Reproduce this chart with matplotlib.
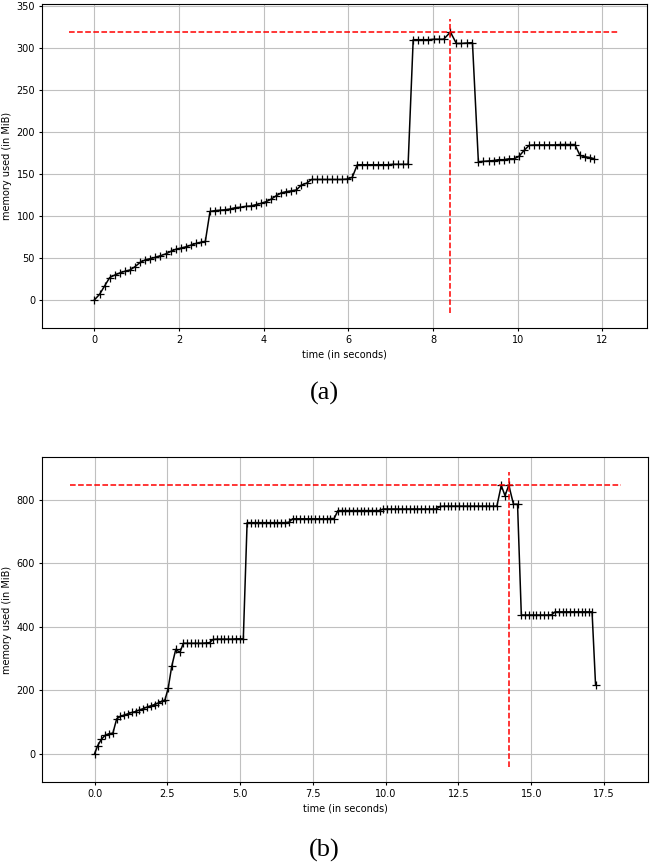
import numpy as np
import matplotlib
matplotlib.use("Agg")
import matplotlib.pyplot as plt

# run (a): memory profile samples
time_a = [0.00, 0.12, 0.24, 0.36, 0.48, 0.60, 0.72, 0.84, 0.96, 1.08, 1.20, 1.32,
          1.44, 1.56, 1.68, 1.80, 1.92, 2.04, 2.16, 2.28, 2.40, 2.52, 2.62,
          2.73, 2.85, 2.97, 3.09, 3.21, 3.33, 3.45, 3.57, 3.69, 3.81, 3.93, 4.05,
          4.17, 4.29, 4.41, 4.53, 4.65, 4.77, 4.89, 5.01, 5.13,
          5.25, 5.37, 5.49, 5.61, 5.73, 5.85, 5.97, 6.09,
          6.21, 6.33, 6.45, 6.57, 6.69, 6.81, 6.93, 7.05, 7.17, 7.29, 7.41,
          7.53, 7.65, 7.77, 7.89, 8.01, 8.13, 8.25, 8.41,
          8.55, 8.67, 8.79, 8.93,
          9.07, 9.19, 9.31, 9.43, 9.55, 9.67, 9.79, 9.91, 10.03, 10.15, 10.27,
          10.39, 10.51, 10.63, 10.75, 10.87, 10.99, 11.11, 11.23, 11.35,
          11.47, 11.59, 11.71, 11.81]
mem_a = [0.5, 7, 17, 27, 30, 32.5, 34.5, 36, 40, 45, 48, 49.5,
         51, 53, 55, 58, 60.5, 62, 63.5, 65.5, 67.5, 69, 70,
         105.5, 106.5, 107, 107.5, 108.5, 110, 110.5, 111.5, 112, 113.5, 115, 117,
         120, 124, 127.5, 129, 130, 131, 137, 139, 143.5,
         143.5, 143.5, 143.5, 143.5, 143.5, 143.5, 144, 146,
         161, 161, 161, 161, 161, 161, 161, 161.5, 161.5, 161.5, 161.5,
         309.5, 309.5, 309.5, 309.5, 310, 310, 310, 318.5,
         305, 305, 305.5, 306,
         164.5, 165, 165.5, 166, 167, 167, 168, 168, 171, 178, 184,
         184.5, 184.5, 184.5, 184.5, 184.5, 185, 185, 185, 185,
         172, 170.5, 169.5, 168]

# run (b)
time_b = [0.00, 0.11, 0.23, 0.36, 0.49, 0.63, 0.76, 0.89, 1.02, 1.15, 1.28, 1.41,
          1.54, 1.67, 1.80, 1.93, 2.06, 2.19, 2.32, 2.42, 2.53, 2.65, 2.79, 2.93,
          3.05, 3.18, 3.31, 3.44, 3.57, 3.70, 3.83, 3.95, 4.07, 4.20, 4.33, 4.46,
          4.59, 4.72, 4.85, 4.98, 5.11,
          5.24, 5.37, 5.50, 5.63, 5.76, 5.89, 6.02, 6.15, 6.28, 6.41, 6.54, 6.67,
          6.80, 6.93, 7.06, 7.19, 7.32, 7.45, 7.58, 7.71, 7.84, 7.97, 8.10, 8.23,
          8.36, 8.49, 8.62, 8.75, 8.88, 9.01, 9.14, 9.27, 9.40, 9.53, 9.66, 9.79,
          9.92, 10.05, 10.18, 10.31, 10.44, 10.57, 10.70, 10.83, 10.96, 11.09,
          11.22, 11.35, 11.48, 11.61, 11.74,
          11.87, 12.00, 12.13, 12.26, 12.39, 12.52, 12.65, 12.78, 12.91, 13.04,
          13.17, 13.30, 13.43, 13.56, 13.69, 13.82,
          13.97, 14.10, 14.23, 14.39, 14.53,
          14.66, 14.79, 14.92, 15.05, 15.18, 15.31, 15.44, 15.57, 15.70,
          15.82, 15.95, 16.08, 16.21, 16.34, 16.47, 16.60, 16.73, 16.86, 16.99, 17.09,
          17.21]
mem_b = [0, 26, 45, 58, 63, 65, 110, 118, 122, 126, 130, 133,
         138, 142, 147, 151, 155, 160, 165, 170, 207, 275, 329, 319,
         348, 348, 348, 348, 348, 348, 349, 350, 360, 361, 361, 361,
         361, 361, 362, 362, 362,
         728, 728, 728, 728, 728, 728, 728, 728, 728, 728, 728, 729,
         740, 740, 740, 740, 740, 740, 740, 740, 740, 740, 741, 741,
         766, 766, 766, 766, 766, 766, 766, 766, 766, 766, 766, 766,
         771, 771, 771, 771, 771, 771, 771, 771, 771, 771,
         771, 771, 771, 771, 771,
         779, 780, 780, 780, 780, 780, 780, 780, 780, 780,
         780, 780, 780, 780, 780, 780,
         845, 813, 846, 786, 786,
         437, 437, 437, 437, 437, 437, 437, 437, 438,
         447, 447, 447, 447, 447, 447, 447, 447, 447, 447, 447,
         217]

xticks_a = [0, 2, 4, 6, 8, 10, 12]
yticks_a = [0, 50, 100, 150, 200, 250, 300, 350]
xticks_b = [0.0, 2.5, 5.0, 7.5, 10.0, 12.5, 15.0, 17.5]
yticks_b = [0, 200, 400, 600, 800]

plt.rcParams['font.size'] = 7
plt.rcParams['xtick.major.size'] = 2.5
plt.rcParams['ytick.major.size'] = 2.5
plt.rcParams['xtick.major.pad'] = 2.5
plt.rcParams['ytick.major.pad'] = 2.5
plt.rcParams['axes.labelpad'] = 3

fig = plt.figure(figsize=(6.56, 8.65), dpi=100)
ax_a = fig.add_axes([0.064, 0.6208, 0.922, 0.3746])
ax_b = fig.add_axes([0.064, 0.0960, 0.924, 0.3757])


def mem_plot(ax, t, m, xticks, yticks):
    t = np.array(t)
    m = np.array(m)
    ax.plot(t, m, '+-', color='k', ms=6, mew=0.9, lw=1.1)
    # mark the peak like mprof does
    x0, x1 = ax.get_xlim()
    y0, y1 = ax.get_ylim()
    i = np.argmax(m)
    ax.hlines(m[i], x0 + 0.001, x1 - 0.001, colors='r', linestyles='--', lw=1.1)
    ax.vlines(t[i], y0 + 0.001, y1 - 0.001, colors='r', linestyles='--', lw=1.1)
    ax.set_xticks(xticks)
    ax.set_yticks(yticks)
    ax.grid(True, color='#c0c0c0', lw=0.8)
    ax.set_axisbelow(True)
    ax.set_xlabel('time (in seconds)')
    ax.set_ylabel('memory used (in MiB)')


mem_plot(ax_a, time_a, mem_a, xticks_a, yticks_a)
mem_plot(ax_b, time_b, mem_b, xticks_b, yticks_b)

fig.text(0.495, 0.5457, '(a)', ha='center', va='center', fontsize=19,
         family='Liberation Serif')
fig.text(0.495, 0.017, '(b)', ha='center', va='center', fontsize=19,
         family='Liberation Serif')

fig.savefig('out.png', dpi=100)
